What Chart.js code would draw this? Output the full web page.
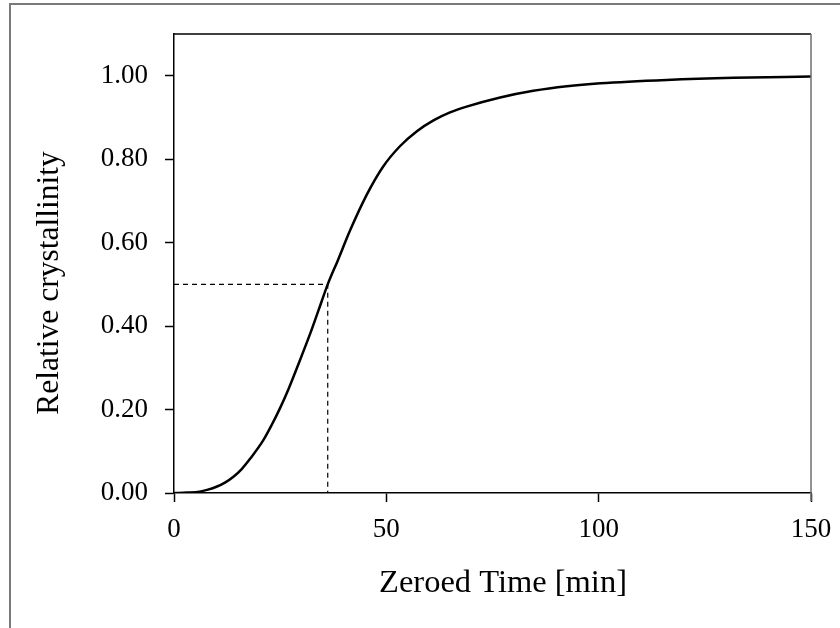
<!DOCTYPE html>
<html>
<head>
<meta charset="utf-8">
<script src="https://cdn.jsdelivr.net/npm/chart.js@4"></script>
<style>
  body { margin:0; background:#fff; overflow:hidden; }
  #wrap { position:relative; width:840px; height:628px; }
  #frame { position:absolute; left:9px; top:3px; width:900px; height:700px; border:2px solid #7a7a7a; box-sizing:border-box; }
  #myChart { position:absolute; left:0; top:0; }
</style>
</head>
<body>
<div id="wrap">
  <div id="frame"></div>
  <canvas id="myChart" width="840" height="628"></canvas>
</div>
<script>
// values
const times = [0, 3, 6, 8, 10, 12, 14, 16, 18, 21, 23, 25, 27, 29.5, 32, 34, 36.2, 38.6, 41.5, 45.4, 49.3, 53.2, 57.2, 61.1, 65, 68.9, 76.8, 84.6, 92.5, 100.4, 116, 131.8, 150];
const crystallinity = [0, 0.001, 0.003, 0.008, 0.015, 0.025, 0.039, 0.058, 0.083, 0.126, 0.163, 0.204, 0.25, 0.314, 0.38, 0.437, 0.5, 0.558, 0.63, 0.715, 0.783, 0.831, 0.867, 0.893, 0.912, 0.926, 0.948, 0.964, 0.975, 0.982, 0.99, 0.995, 0.998];

// half-time marker
const halfTime = 36.2;
const halfValue = 0.5;

const xTicks = [0, 50, 100, 150];
const yTicks = [0, 0.2, 0.4, 0.6, 0.8, 1.0];

const xTitle = 'Zeroed Time [min]';
const yTitle = 'Relative crystallinity';

const curve = times.map((t, i) => ({x: t, y: crystallinity[i]}));
const marker = [{x: 0, y: halfValue}, {x: halfTime, y: halfValue}, {x: halfTime, y: 0}];

const serif = "'Liberation Serif', 'Times New Roman', serif";

// top/right edge of the plot box + axis titles
const boxEdges = {
    id: 'boxEdges',
    afterDraw(chart){
        const a = chart.chartArea;
        const c = chart.ctx;
        c.save();
        c.lineWidth = 1.5;
        c.strokeStyle = '#000';
        c.beginPath();
        c.moveTo(a.left, a.top);
        c.lineTo(a.right, a.top);
        c.stroke();
        c.strokeStyle = '#6e6e6e';
        c.beginPath();
        c.moveTo(a.right, a.top);
        c.lineTo(a.right, a.bottom + 8);
        c.stroke();

        c.fillStyle = '#000';
        c.font = '32.5px ' + serif;
        c.textAlign = 'center';
        c.textBaseline = 'middle';
        c.fillText(xTitle, 503, 583);
        c.translate(50, 283);
        c.rotate(-Math.PI / 2);
        c.font = '31.5px ' + serif;
        c.fillText(yTitle, 0, 0);
        c.restore();
    }
};

var ctx = document.getElementById('myChart').getContext('2d');
var myChart = new Chart(ctx, {
    type: 'scatter',
    data: {
        datasets: [{
            data: curve,
            showLine: true,
            borderColor: '#000',
            borderWidth: 2.5,
            pointRadius: 0,
            cubicInterpolationMode: 'monotone'
        }, {
            data: marker,
            showLine: true,
            borderColor: '#000',
            borderWidth: 1.2,
            borderDash: [5, 4],
            pointRadius: 0,
            tension: 0
        }]
    },
    options: {
        responsive: false,
        animation: false,
        devicePixelRatio: 1,
        layout: { padding: { top: 34, right: 29, left: 0, bottom: 0 } },
        plugins: { legend: { display: false }, tooltip: { enabled: false } },
        scales: {
            x: {
                type: 'linear',
                min: 0, max: 150,
                afterFit: s => { s.height = 135; s.paddingRight = 0; s.paddingLeft = 0; },
                afterBuildTicks: s => { s.ticks = xTicks.map(v => ({value: v})); },
                grid: { drawOnChartArea: false, drawTicks: true, tickLength: 9, tickColor: '#000', tickWidth: 1.5 },
                border: { color: '#000', width: 1.5 },
                ticks: { color: '#000', padding: 12, maxRotation: 0, font: { family: serif, size: 27 } }
            },
            y: {
                type: 'linear',
                min: 0, max: 1.1,
                afterFit: s => { s.width = 174; s.paddingTop = 0; s.paddingBottom = 0; },
                afterBuildTicks: s => { s.ticks = yTicks.map(v => ({value: v})); },
                grid: { drawOnChartArea: false, drawTicks: true, tickLength: 9, tickColor: '#000', tickWidth: 1.5 },
                border: { color: '#000', width: 1.5 },
                ticks: { color: '#000', padding: 17, font: { family: serif, size: 27 }, callback: v => Number(v).toFixed(2) }
            }
        }
    },
    plugins: [boxEdges]
});
</script>
</body>
</html>
